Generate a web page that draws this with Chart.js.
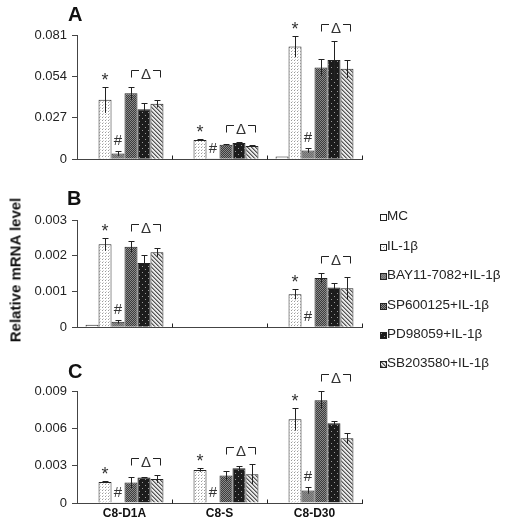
<!DOCTYPE html>
<html>
<head>
<meta charset="utf-8">
<script src="https://cdn.jsdelivr.net/npm/chart.js@4.4.1/dist/chart.umd.min.js"></script>
<style>
  body { margin: 0; background: #fff; font-family: Arial, "Liberation Sans", sans-serif; }
  #wrap { position: relative; width: 510px; height: 530px; overflow: hidden; }
  canvas.panel { position: absolute; left: 0; }
  .letter { position: absolute; font-weight: bold; font-size: 20px; line-height: 20px; color: #111; }
  #ytitle { position: absolute; left: 15px; top: 270px; transform: translate(-50%, -50%) rotate(-90deg);
            font-weight: bold; font-size: 15px; white-space: nowrap; color: #111; }
  .leg { position: absolute; left: 380px; font-size: 13.5px; line-height: 16px; color: #222; white-space: nowrap; }
  .leg canvas { display: inline-block; vertical-align: -1px; margin-right: 0; }
</style>
</head>
<body>
<div id="wrap">
  <canvas id="cA" class="panel" width="510" height="172" style="top:0"></canvas>
  <canvas id="cB" class="panel" width="510" height="168" style="top:172px"></canvas>
  <canvas id="cC" class="panel" width="510" height="190" style="top:340px"></canvas>
  <div class="letter" style="left:68px;top:4px">A</div>
  <div class="letter" style="left:67px;top:188px">B</div>
  <div class="letter" style="left:68px;top:361px">C</div>
  <div id="ytitle">Relative mRNA level</div>
  <div id="legend"></div>
</div>
<script>
// categories and series
const categories = ['C8-D1A', 'C8-S', 'C8-D30'];
const seriesNames = ['MC', 'IL-1β', 'BAY11-7082+IL-1β', 'SP600125+IL-1β', 'PD98059+IL-1β', 'SB203580+IL-1β'];

// panel A (rows follow seriesNames, columns follow categories)
const valsA = [
  [0, 0, 0.0018],
  [0.0387, 0.0125, 0.0735],
  [0.0037, 0.0004, 0.0057],
  [0.0430, 0.0094, 0.0598],
  [0.0325, 0.0105, 0.0647],
  [0.0362, 0.0086, 0.0590]
];
const errsA = [
  [0, 0, 0],
  [0.0085, 0.0006, 0.0070],
  [0.0015, 0, 0.0015],
  [0.0042, 0.0004, 0.0053],
  [0.0043, 0.0005, 0.0123],
  [0.0025, 0.0005, 0.0060]
];
const ticksA = [0, 0.027, 0.054, 0.081];
const marksA = [true, true, true];

// panel B
const valsB = [
  [0.00007, 0, 0],
  [0.00232, 0, 0.00092],
  [0.00015, 0, 0],
  [0.00225, 0, 0.00138],
  [0.00180, 0, 0.00111],
  [0.00210, 0, 0.00109]
];
const errsB = [
  [0, 0, 0],
  [0.00018, 0, 0.00014],
  [0.00005, 0, 0],
  [0.00016, 0, 0.00015],
  [0.00022, 0, 0.00012],
  [0.00013, 0, 0.00032]
];
const ticksB = [0, 0.001, 0.002, 0.003];
const marksB = [true, false, true];

// panel C
const valsC = [
  [0, 0, 0],
  [0.00168, 0.00266, 0.00672],
  [0.00003, 0, 0.00100],
  [0.00165, 0.00221, 0.00826],
  [0.00205, 0.00280, 0.00640],
  [0.00192, 0.00232, 0.00520]
];
const errsC = [
  [0, 0, 0],
  [0.00008, 0.00015, 0.00090],
  [0, 0, 0.00025],
  [0.00045, 0.00040, 0.00070],
  [0.00005, 0.00015, 0.00020],
  [0.00030, 0.00080, 0.00045]
];
const ticksC = [0, 0.003, 0.006, 0.009];
const marksC = [true, true, true];

// fill patterns for the six groups
function makePattern(kind) {
  const c = document.createElement('canvas');
  const g = c.getContext('2d');
  if (kind === 0) {
    c.width = c.height = 2; g.fillStyle = '#fff'; g.fillRect(0, 0, 2, 2);
  } else if (kind === 1) {
    c.width = c.height = 3; g.fillStyle = '#fff'; g.fillRect(0, 0, 3, 3);
    g.fillStyle = '#9a9a9a'; g.fillRect(0, 0, 1, 1); g.fillStyle = '#d0d0d0'; g.fillRect(1, 2, 1, 1);
  } else if (kind === 2) {
    c.width = c.height = 2; g.fillStyle = '#8c8c8c'; g.fillRect(0, 0, 2, 2);
    g.fillStyle = '#6e6e6e'; g.fillRect(0, 0, 1, 1); g.fillRect(1, 1, 1, 1);
  } else if (kind === 3) {
    c.width = c.height = 2; g.fillStyle = '#3c3c3c'; g.fillRect(0, 0, 2, 2);
    g.fillStyle = '#8a8a8a'; g.fillRect(0, 0, 1, 1); g.fillRect(1, 1, 1, 1);
  } else if (kind === 4) {
    c.width = c.height = 6; g.fillStyle = '#1c1c1c'; g.fillRect(0, 0, 6, 6);
    g.fillStyle = '#9a9a9a'; g.fillRect(1, 1, 1, 1); g.fillRect(4, 4, 1, 1);
  } else {
    c.width = c.height = 4; g.fillStyle = '#e8e8e8'; g.fillRect(0, 0, 4, 4);
    g.fillStyle = '#555';
    for (let i = 0; i < 4; i++) g.fillRect(i, i, 1, 1);
    g.fillStyle = '#999';
    for (let i = 0; i < 4; i++) g.fillRect((i + 1) % 4, i, 1, 1);
  }
  return g.createPattern(c, 'repeat');
}
const fills = [0, 1, 2, 3, 4, 5].map(makePattern);

function makePanel(id, vals, errs, tickVals, marks, padTop, padBottom, showLabels) {
  const max = tickVals[tickVals.length - 1];

  const extras = {
    id: 'extras_' + id,
    afterDatasetsDraw(chart) {
      const { ctx, chartArea } = chart;
      const y = chart.scales.y;
      const topOf = (i, j) => y.getPixelForValue(vals[i][j] + errs[i][j]);
      ctx.save();
      ctx.strokeStyle = '#222';
      ctx.lineWidth = 1;
      // error bars
      vals.forEach((row, i) => {
        const meta = chart.getDatasetMeta(i);
        row.forEach((v, j) => {
          const e = errs[i][j];
          if (!e) return;
          const x = Math.round(meta.data[j].x) + 0.5;
          const t = Math.round(y.getPixelForValue(v + e)) + 0.5;
          const b = y.getPixelForValue(Math.max(0, v - e));
          ctx.beginPath();
          ctx.moveTo(x, b); ctx.lineTo(x, t);
          ctx.moveTo(x - 3, t); ctx.lineTo(x + 3, t);
          ctx.stroke();
        });
      });
      // small category ticks on the x axis, and the short stub left of the y axis
      const bottom = Math.round(chartArea.bottom) + 0.5;
      const w = (chartArea.right - chartArea.left) / categories.length;
      for (let k = 1; k <= categories.length; k++) {
        const x = Math.round(chartArea.left + k * w) + 0.5;
        ctx.beginPath(); ctx.moveTo(x, bottom); ctx.lineTo(x, bottom - 4); ctx.stroke();
      }
      ctx.strokeStyle = '#444';
      ctx.beginPath(); ctx.moveTo(chartArea.left - 4, bottom); ctx.lineTo(chartArea.left, bottom); ctx.stroke();
      ctx.strokeStyle = '#222';
      // significance marks
      ctx.fillStyle = '#333';
      ctx.textAlign = 'center';
      ctx.textBaseline = 'alphabetic';
      marks.forEach((on, j) => {
        if (!on) return;
        const xIL = chart.getDatasetMeta(1).data[j].x;
        const xBAY = chart.getDatasetMeta(2).data[j].x;
        ctx.font = '18px Arial, "Liberation Sans", sans-serif';
        ctx.fillText('*', xIL, topOf(1, j) - 1);
        ctx.font = '15px Arial, "Liberation Sans", sans-serif';
        ctx.fillText('#', xBAY, topOf(2, j) - 6);
        const xs = Math.round(chart.getDatasetMeta(3).data[j].x) + 0.5;
        const xe = Math.round(chart.getDatasetMeta(5).data[j].x) + 3.5;
        const by = Math.round(Math.min(topOf(3, j), topOf(4, j), topOf(5, j)) - 17) + 0.5;
        const xm = (xs + xe) / 2;
        ctx.beginPath();
        ctx.moveTo(xs, by + 7); ctx.lineTo(xs, by); ctx.lineTo(xm - 7, by);
        ctx.moveTo(xm + 7, by); ctx.lineTo(xe, by); ctx.lineTo(xe, by + 7);
        ctx.stroke();
        ctx.fillText('Δ', xm, by + 8);
      });
      ctx.restore();
    }
  };

  return new Chart(document.getElementById(id), {
    type: 'bar',
    data: {
      labels: categories,
      datasets: seriesNames.map((name, i) => ({
        label: name,
        data: vals[i],
        backgroundColor: fills[i],
        borderColor: '#222',
        borderWidth: 1,
        categoryPercentage: 0.82,
        barPercentage: 1
      }))
    },
    options: {
      responsive: false,
      animation: false,
      devicePixelRatio: 1,
      layout: { padding: { top: padTop, bottom: padBottom, left: 0, right: 148 } },
      plugins: { legend: { display: false }, tooltip: { enabled: false } },
      scales: {
        x: {
          grid: { display: false, drawTicks: false },
          border: { display: true, color: '#444', width: 1 },
          ticks: {
            display: showLabels,
            color: '#111',
            padding: 3,
            font: { family: 'Arial, "Liberation Sans", sans-serif', size: 12, weight: 'bold' }
          },
          afterFit: s => { s.height = showLabels ? 27 : 0; }
        },
        y: {
          min: 0,
          max: max,
          afterBuildTicks: s => { s.ticks = tickVals.map(v => ({ value: v })); },
          grid: { drawOnChartArea: false, drawTicks: true, tickLength: 5, color: '#444' },
          border: { display: true, color: '#444', width: 1 },
          ticks: {
            color: '#222',
            padding: 5,
            font: { family: 'Arial, "Liberation Sans", sans-serif', size: 13 },
            callback: v => v === 0 ? '0' : v.toFixed(3)
          },
          afterFit: s => { s.width = 77; }
        }
      }
    },
    plugins: [extras]
  });
}

makePanel('cA', valsA, errsA, ticksA, marksA, 35, 6, false);
makePanel('cB', valsB, errsB, ticksB, marksB, 48, 6, false);
makePanel('cC', valsC, errsC, ticksC, marksC, 51, 0, true);

// legend
const legendY = [216, 246, 275, 305, 334, 363];
const legend = document.getElementById('legend');
seriesNames.forEach((name, i) => {
  const item = document.createElement('div');
  item.className = 'leg';
  item.style.top = (legendY[i] - 8) + 'px';
  const sw = document.createElement('canvas');
  sw.width = 7; sw.height = 7;
  const g = sw.getContext('2d');
  g.fillStyle = fills[i]; g.fillRect(0, 0, 7, 7);
  g.strokeStyle = '#222'; g.lineWidth = 1; g.strokeRect(0.5, 0.5, 6, 6);
  item.appendChild(sw);
  item.appendChild(document.createTextNode(name));
  legend.appendChild(item);
});
</script>
</body>
</html>
